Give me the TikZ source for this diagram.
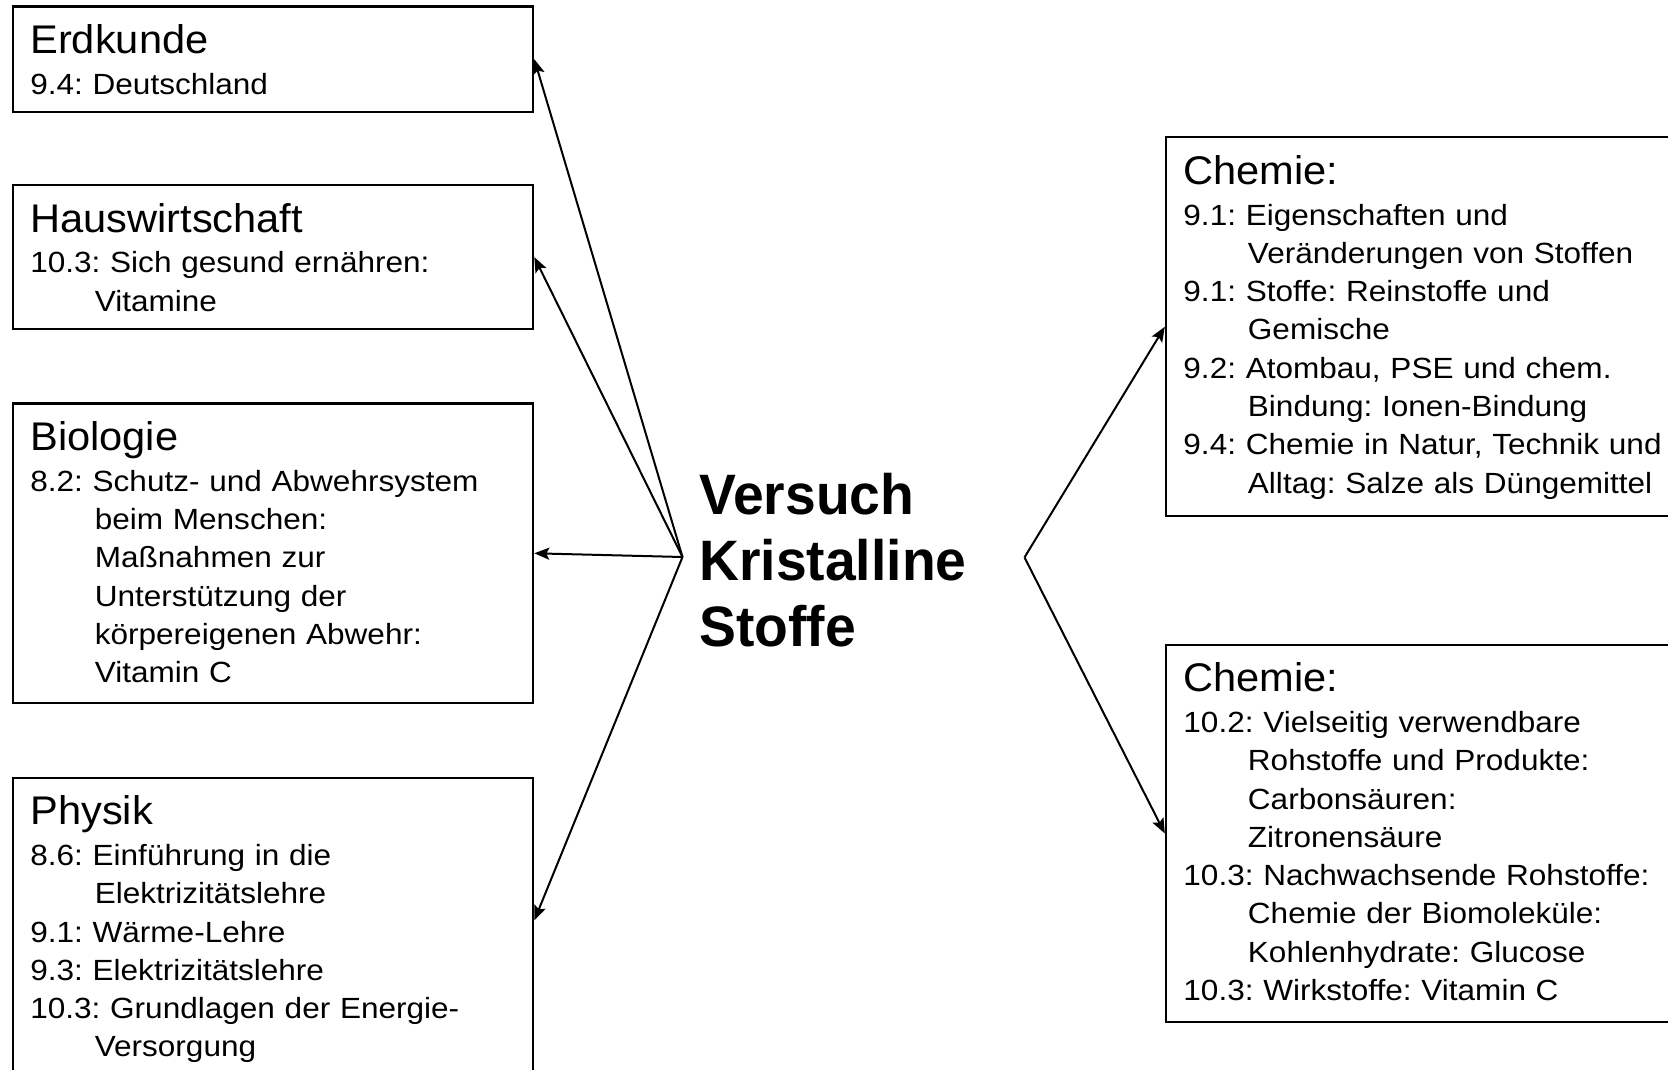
\documentclass[tikz,border=0pt]{standalone}
\usepackage{fontspec}
\setmainfont{Liberation Sans}
\newfontfamily\bodyfam[FakeStretch=1.08]{Liberation Sans}
\newfontfamily\headfam[FakeStretch=1.04]{Liberation Sans}
\newfontfamily\titlefam[FakeStretch=0.97]{Liberation Sans}
\usetikzlibrary{arrows.meta}
\frenchspacing
\newcommand\fach[1]{{\headfam\fontsize{40}{40}\selectfont #1\par}\vspace{2.4pt}}
\newcommand\ind{\hspace*{64.5pt}}
\tikzset{
  subj/.style={
    draw,line width=2.3pt,anchor=north west,inner xsep=17.5pt,inner ysep=0pt,
    text height=47pt,align=left,font=\bodyfam\fontsize{29.2}{38.3}\selectfont,
  },
}
\begin{document}
\begin{tikzpicture}[x=1pt,y=-1pt,arr/.style={-{Stealth[length=15pt,width=12pt,inset=3pt]},line width=2pt},title/.style={anchor=base west,inner sep=0pt,text width=320pt,align=left,font=\titlefam\bfseries\fontsize{57}{66}\selectfont}]

        \useasboundingbox (0,0) rectangle (1668,1070);
        \clip (0,0) rectangle (1668,1070);

        % left column
        \node[subj,text width=485.3pt,text depth=58.5pt] (erd) at (11.7,5.3) {\fach{Erdkunde}
          9.4: Deutschland\par};
        \node[subj,text width=485.3pt,text depth=97pt] (haus) at (11.7,184) {\fach{Hauswirtschaft}
          10.3: Sich gesund ernähren:\par
          \ind Vitamine\par};
        \node[subj,text width=485.3pt,text depth=252.7pt] (bio) at (11.7,402.3) {\fach{Biologie}
          8.2: Schutz- und Abwehrsystem\par
          \ind beim Menschen:\par
          \ind Maßnahmen zur\par
          \ind Unterstützung der\par
          \ind körpereigenen Abwehr:\par
          \ind Vitamin C\par};
        \node[subj,text width=485.3pt,text depth=256.4pt] (phy) at (11.7,776.6) {\fach{Physik}
          8.6: Einführung in die\par
          \ind Elektrizitätslehre\par
          9.1: Wärme-Lehre\par
          9.3: Elektrizitätslehre\par
          10.3: Grundlagen der Energie-\par
          \ind Versorgung\par};

        % right column
        \node[subj,text width=560pt,text depth=331.8pt] (chemA) at (1164.8,136.2) {\fach{Chemie:}
          9.1: Eigenschaften und\par
          \ind Veränderungen von Stoffen\par
          9.1: Stoffe: Reinstoffe und\par
          \ind Gemische\par
          9.2: Atombau, PSE und chem.\par
          \ind Bindung: Ionen-Bindung\par
          9.4: Chemie in Natur, Technik und\par
          \ind Alltag: Salze als Düngemittel\par};
        \node[subj,text width=560pt,text depth=330.4pt] (chemB) at (1164.8,643.6) {\fach{Chemie:}
          10.2: Vielseitig verwendbare\par
          \ind Rohstoffe und Produkte:\par
          \ind Carbonsäuren:\par
          \ind Zitronensäure\par
          10.3: Nachwachsende Rohstoffe:\par
          \ind Chemie der Biomoleküle:\par
          \ind Kohlenhydrate: Glucose\par
          10.3: Wirkstoffe: Vitamin C\par};

        % centre
        \node[title] (versuch) at (699,514) {Versuch\\Kristalline\\Stoffe};
        \coordinate (hubL) at (682.5,557);
        \coordinate (hubR) at (1024.5,557.4);

        \draw[arr] (hubL) -- (erd.east);
        \draw[arr] (hubL) -- (haus.east);
        \draw[arr] (hubL) -- (bio.east);
        \draw[arr] (hubL) -- ([yshift=9pt]phy.east);
        \draw[arr] (hubR) -- (chemA.west);
        \draw[arr] (hubR) -- (chemB.west);

\end{tikzpicture}
\end{document}
